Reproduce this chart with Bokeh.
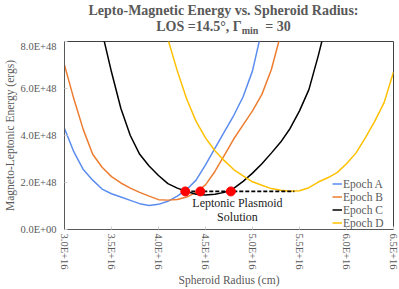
import math
from bokeh.plotting import figure
from bokeh.layouts import column
from bokeh.models import Range1d, FixedTicker, Label, Legend, LegendItem, Div
from bokeh.embed import file_html
from bokeh.resources import INLINE

# Values in units of 1E+16 cm (radius) and 1E+48 erg (energy)
radius_A = [3.0, 3.1, 3.2, 3.3, 3.4, 3.5, 3.6, 3.7, 3.8, 3.9, 4.0, 4.1, 4.2, 4.3, 4.4, 4.5, 4.6, 4.7, 4.8, 4.9, 5.0, 5.1]
energy_A = [4.3, 3.3, 2.55, 2.1, 1.72, 1.52, 1.38, 1.24, 1.10, 1.02, 1.07, 1.2, 1.42, 1.7, 2.1, 2.75, 3.45, 4.15, 4.85, 5.65, 6.75, 8.5]

radius_B = [3.0, 3.1, 3.2, 3.3, 3.4, 3.5, 3.6, 3.7, 3.8, 3.9, 4.0, 4.1, 4.2, 4.3, 4.4, 4.5, 4.6, 4.7, 4.8, 4.9, 5.0, 5.1, 5.2, 5.3]
energy_B = [7.0, 5.55, 4.25, 3.2, 2.65, 2.25, 1.98, 1.76, 1.58, 1.42, 1.27, 1.25, 1.28, 1.38, 1.58, 1.9, 2.47, 3.15, 3.85, 4.45, 5.05, 5.75, 6.8, 8.3]

radius_C = [3.4, 3.5, 3.6, 3.7, 3.8, 3.9, 4.0, 4.1, 4.2, 4.3, 4.4, 4.5, 4.6, 4.7, 4.8, 4.9, 5.0, 5.1, 5.2, 5.3, 5.4, 5.5, 5.6, 5.7, 5.8]
energy_C = [8.4, 6.7, 5.15, 4.0, 3.2, 2.7, 2.3, 1.95, 1.76, 1.62, 1.5, 1.47, 1.5, 1.58, 1.75, 2.05, 2.4, 2.8, 3.25, 3.72, 4.3, 5.05, 5.95, 7.4, 9.0]

radius_D = [4.1, 4.2, 4.3, 4.4, 4.5, 4.6, 4.7, 4.8, 4.9, 5.0, 5.1, 5.2, 5.3, 5.4, 5.5, 5.6, 5.7, 5.8, 5.9, 6.0, 6.1, 6.2, 6.3, 6.4, 6.5]
energy_D = [8.1, 6.75, 5.55, 4.6, 3.9, 3.35, 2.93, 2.55, 2.28, 2.03, 1.88, 1.74, 1.67, 1.63, 1.65, 1.78, 2.02, 2.2, 2.42, 2.8, 3.25, 3.9, 4.6, 5.4, 6.7]

solution_x = [4.285, 4.445, 4.77]
solution_y = [1.62, 1.62, 1.62]
plasmoid_line_x = [4.285, 5.445]
plasmoid_line_y = [1.62, 1.62]

series_names = ["Epoch A", "Epoch B", "Epoch C", "Epoch D"]
series_colors = ["#5B8DEF", "#ED7D31", "#000000", "#FFC000"]

x_ticks = [3.0, 3.5, 4.0, 4.5, 5.0, 5.5, 6.0, 6.5]
x_tick_labels = ["3.0E+16", "3.5E+16", "4.0E+16", "4.5E+16", "5.0E+16", "5.5E+16", "6.0E+16", "6.5E+16"]
y_ticks = [0, 2, 4, 6, 8]
y_tick_labels = ["0.0E+00", "2.0E+48", "4.0E+48", "6.0E+48", "8.0E+48"]

title_line1 = "Lepto-Magnetic Energy vs. Spheroid Radius:"
title_line2_a = "LOS =14.5\u00b0, \u0393"
title_line2_sub = "min"
title_line2_b = "= 30"

FONT = "Liberation Serif"
GRAY = "#595959"
W = 399
H = 289
TH = 40

# ---- title (HTML text, with a real subscript) ----
title_html = (
    f'<div style="font-family:\'{FONT}\',serif;font-weight:bold;font-size:14px;color:{GRAY};'
    f'text-align:center;line-height:16px;box-sizing:border-box;width:{W}px;'
    f'padding:3px 0 0 48px;white-space:nowrap;">'
    f'{title_line1}<br>{title_line2_a}'
    f'<span style="font-size:10px;position:relative;top:3px;">{title_line2_sub}</span>'
    f'&nbsp;&nbsp;{title_line2_b}</div>'
)
title_div = Div(text=title_html, width=W, height=TH, margin=0)

# ---- main chart ----
p = figure(width=W, height=H - TH, output_backend="svg", toolbar_location=None,
           x_range=Range1d(3.0, 6.5), y_range=Range1d(0, 8),
           min_border_left=63, min_border_right=6, min_border_top=1, min_border_bottom=59)
p.background_fill_color = "white"
p.border_fill_color = "white"
p.outline_line_color = "#404040"
p.outline_line_width = 1
p.grid.grid_line_color = None

p.xaxis.ticker = FixedTicker(ticks=x_ticks)
p.xaxis.major_label_overrides = {t: l for t, l in zip(x_ticks, x_tick_labels)}
p.yaxis.ticker = FixedTicker(ticks=y_ticks)
p.yaxis.major_label_overrides = {t: l for t, l in zip(y_ticks, y_tick_labels)}
p.xaxis.major_label_orientation = -math.pi / 2

for ax in (p.xaxis, p.yaxis):
    ax.axis_line_color = GRAY
    ax.major_tick_in = 3
    ax.major_tick_out = 0
    ax.major_tick_line_color = "#d0d0d0"
    ax.minor_tick_line_color = None
    ax.major_label_text_font = FONT
    ax.major_label_text_font_size = "10.5px"
    ax.major_label_text_color = GRAY
    ax.axis_label_text_font = FONT
    ax.axis_label_text_font_size = "11.5px"
    ax.axis_label_text_font_style = "normal"
    ax.axis_label_text_color = GRAY
    ax.axis_label_standoff = 2

p.xaxis.axis_label = "Spheroid Radius (cm)"
p.yaxis.axis_label = "Magneto-Leptonic Energy (ergs)"
p.xaxis.major_label_standoff = 4
p.yaxis.major_label_standoff = 8

rs = []
for xs, ys, c in zip([radius_A, radius_B, radius_C, radius_D],
                     [energy_A, energy_B, energy_C, energy_D], series_colors):
    rs.append(p.line(xs, ys, line_color=c, line_width=1.5))

p.line(plasmoid_line_x, plasmoid_line_y, line_color="black", line_width=1.8, line_dash="4 2")
p.scatter(solution_x, solution_y, size=9, fill_color="#FF0000", line_color="#FF0000")

legend = Legend(items=[LegendItem(label=n, renderers=[r]) for n, r in zip(series_names, rs)],
                location=(268, 0))
legend.border_line_color = None
legend.background_fill_alpha = 0
legend.label_text_font = FONT
legend.label_text_font_size = "11.5px"
legend.label_text_color = GRAY
legend.label_height = 13
legend.glyph_height = 13
legend.glyph_width = 10
legend.label_standoff = 1
legend.spacing = 0
legend.padding = 1
legend.margin = 0
p.add_layout(legend)

for txt, yy in [("Leptonic Plasmoid", 1.14), ("Solution", 0.55)]:
    p.add_layout(Label(x=4.84, y=yy, text=txt, text_align="center", text_baseline="middle",
                       text_font=FONT, text_font_size="12px", text_color="#1a1a1a"))

open("out.html", "w").write(file_html(column(title_div, p, spacing=0), INLINE))
